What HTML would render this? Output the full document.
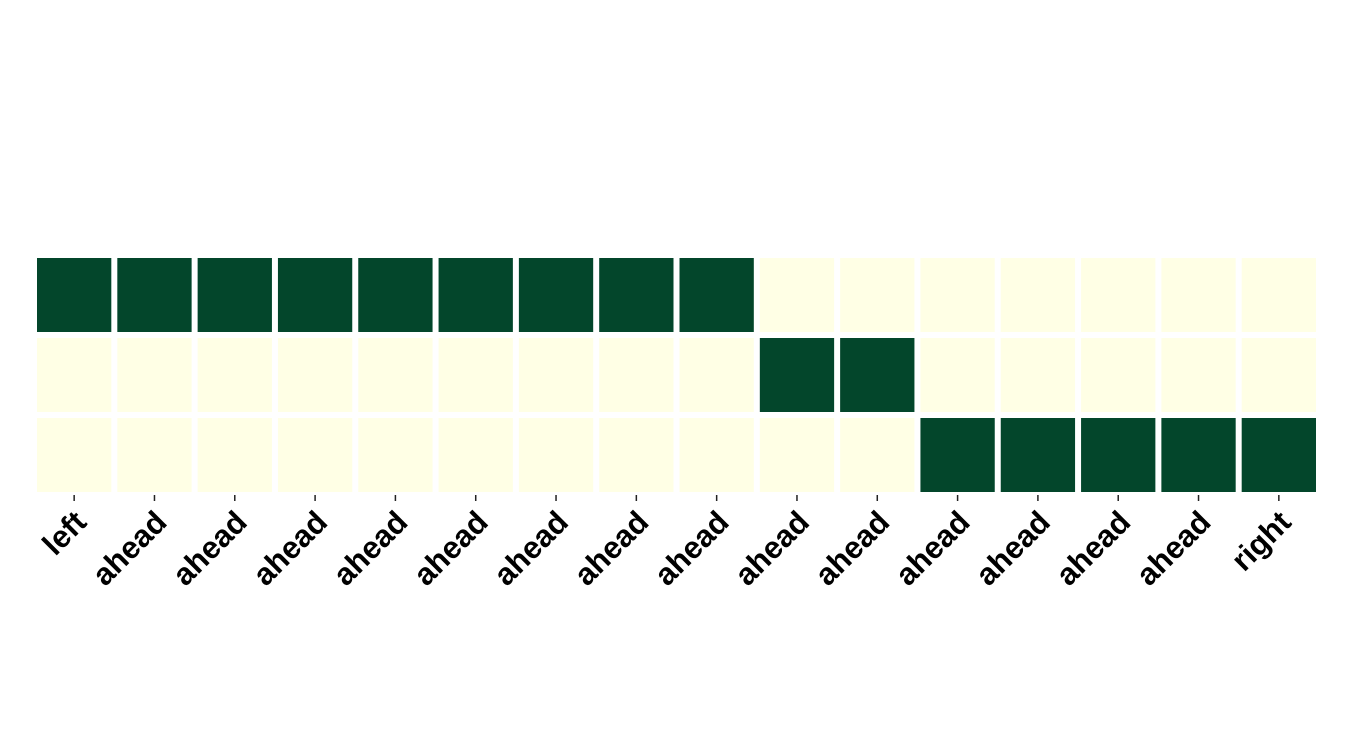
<!DOCTYPE html>
<html><head><meta charset="utf-8"><style>
html,body{margin:0;padding:0;background:#fff;width:1350px;height:750px;overflow:hidden}
</style></head><body>
<svg id="chart" width="1350" height="750" xmlns="http://www.w3.org/2000/svg" font-family="Liberation Sans, sans-serif"></svg>
<script>
const categories = ["left","ahead","ahead","ahead","ahead","ahead","ahead","ahead","ahead","ahead","ahead","ahead","ahead","ahead","ahead","right"];
const row0 = [1,1,1,1,1,1,1,1,1,0,0,0,0,0,0,0];
const row1 = [0,0,0,0,0,0,0,0,0,1,1,0,0,0,0,0];
const row2 = [0,0,0,0,0,0,0,0,0,0,0,1,1,1,1,1];
const rows = [row0,row1,row2];
const svg = document.getElementById('chart');
const NS = 'http://www.w3.org/2000/svg';
const x0 = 34, x1 = 1319, y0 = 255, y1 = 495, gap = 6;
const cw = (x1 - x0) / categories.length, ch = (y1 - y0) / rows.length;
const xScale = i => x0 + i * cw;
const yScale = j => y0 + j * ch;
const color = v => v >= 0.5 ? '#03462b' : '#ffffe5';
rows.forEach((r, j) => r.forEach((v, i) => {
  const rc = document.createElementNS(NS, 'rect');
  rc.setAttribute('x', xScale(i) + gap/2);
  rc.setAttribute('y', yScale(j) + gap/2);
  rc.setAttribute('width', cw - gap);
  rc.setAttribute('height', ch - gap);
  rc.setAttribute('fill', color(v));
  
  
  svg.appendChild(rc);
}));
categories.forEach((c, i) => {
  const cx = xScale(i) + cw / 2;
  const t = document.createElementNS(NS, 'line');
  t.setAttribute('x1', cx); t.setAttribute('x2', cx);
  t.setAttribute('y1', 495); t.setAttribute('y2', 501);
  t.setAttribute('stroke', '#222'); t.setAttribute('stroke-width', 1.5);
  
  
  svg.appendChild(t);
  const tx = document.createElementNS(NS, 'text');
  tx.setAttribute('transform', 'translate(' + (cx + 14) + ',524) rotate(-45)');
  tx.setAttribute('text-anchor', 'end');
  tx.setAttribute('font-size', '31');
  tx.setAttribute('font-weight', 'bold');
  tx.setAttribute('fill', '#000');
  tx.textContent = c;
  
  
  svg.appendChild(tx);
});
</script>
</body></html>
